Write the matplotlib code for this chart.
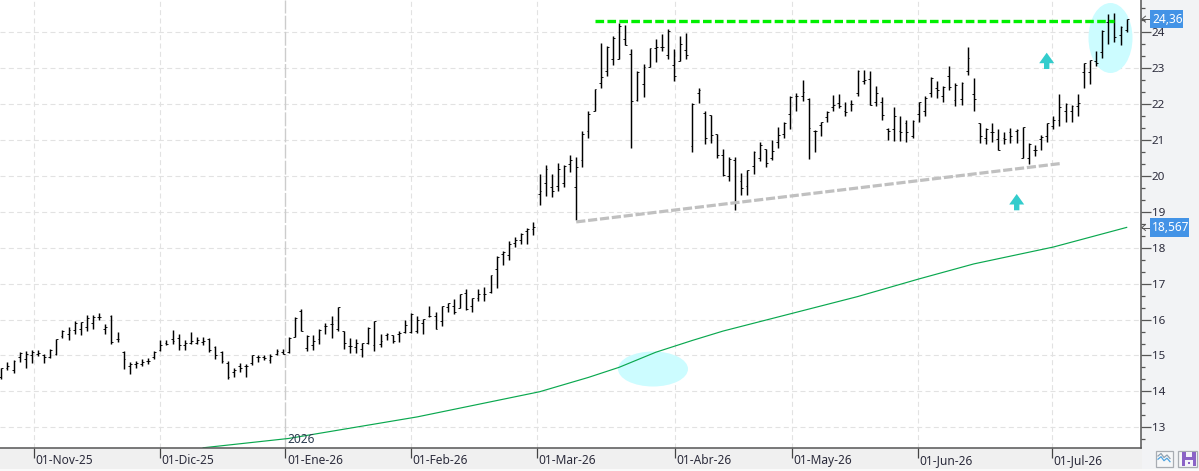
import matplotlib
matplotlib.use("Agg")
import matplotlib.pyplot as plt
from matplotlib.collections import LineCollection
from matplotlib.patches import Ellipse, Polygon, Rectangle
from matplotlib.ticker import MultipleLocator, NullFormatter
from matplotlib.transforms import Affine2D

plt.rcParams["lines.scale_dashes"] = False
plt.rcParams["font.family"] = ["Noto Sans", "DejaVu Sans"]

# Daily prices, oldest first
high = [14.66,14.82,14.87,15.10,15.12,15.15,15.15,15.04,15.17,15.47,15.72,15.79,15.95,15.94,16.14,16.12,16.19,15.88,16.12,15.65,
        15.12,14.82,14.84,14.90,14.94,15.13,15.42,15.44,15.70,15.61,15.42,15.65,15.52,15.52,15.50,15.26,15.12,14.86,14.66,14.78,
        14.76,15.01,15.01,15.01,15.04,15.17,15.17,15.52,16.07,16.30,15.56,15.58,15.75,
        15.90,16.11,16.36,15.67,15.50,15.47,15.36,15.78,15.97,15.61,15.64,15.58,15.67,16.00,16.17,16.09,16.03,16.39,16.21,16.39,
        16.47,16.57,16.71,16.84,16.59,16.84,16.91,17.23,17.76,17.92,18.18,18.29,18.41,18.54,18.73,
        20.06,20.31,20.06,20.36,20.30,20.59,20.54,21.25,21.81,22.42,23.70,23.61,23.89,24.25,24.20,23.53,22.92,23.11,23.56,23.81,
        23.95,24.09,23.54,23.90,23.98,22.03,22.44,21.82,21.70,21.17,20.76,20.54,20.54,20.09,20.17,20.70,20.94,20.76,21.01,21.37,
        21.50,22.23,22.30,22.68,22.17,21.27,21.50,21.80,22.26,22.29,22.07,22.12,22.95,22.95,22.93,22.51,22.20,21.33,21.93,21.68,
        21.56,21.55,22.06,22.23,22.76,22.63,22.51,23.06,22.58,22.62,23.59,22.73,21.48,21.34,21.48,21.31,21.22,21.34,21.32,21.37,
        20.93,20.86,21.15,21.48,21.68,22.29,22.03,21.97,22.29,23.15,23.23,23.48,24.06,24.51,24.53,24.17,24.36]
low = [14.35,14.59,14.52,14.81,14.66,14.80,14.98,14.80,14.93,15.01,15.50,15.42,15.59,15.56,15.68,15.73,15.98,15.59,15.33,15.38,
       14.63,14.49,14.64,14.70,14.76,14.90,15.13,15.29,15.33,15.16,15.16,15.32,15.33,15.28,15.09,14.91,14.78,14.35,14.41,14.53,
       14.41,14.73,14.82,14.87,14.80,15.00,15.03,15.07,15.52,15.68,15.13,15.15,15.33,
       15.61,15.49,15.68,15.18,15.07,15.07,14.97,15.33,15.13,15.24,15.43,15.36,15.38,15.63,15.63,15.64,15.60,16.06,15.75,15.81,
       16.22,16.16,16.31,16.28,16.21,16.52,16.52,16.75,16.88,17.53,17.65,18.01,18.11,18.10,18.36,
       19.19,19.43,19.42,19.57,19.68,20.10,18.76,20.25,21.07,21.80,22.44,22.79,23.10,23.25,23.64,20.77,22.10,22.20,23.02,23.16,
       23.49,23.27,22.65,23.19,23.26,20.66,22.04,20.88,20.93,20.49,19.99,19.87,19.05,19.48,19.48,20.05,20.41,20.24,20.43,20.78,
       21.05,21.32,21.80,22.10,20.46,20.66,21.10,21.49,21.82,21.88,21.68,21.81,22.23,22.56,21.98,21.94,21.56,21.01,20.98,20.98,
       20.95,21.07,21.49,21.66,22.19,22.16,22.07,22.38,21.96,21.98,22.81,21.80,20.93,20.88,20.95,20.71,20.89,20.91,20.91,20.49,
       20.32,20.56,20.73,20.95,21.30,21.38,21.51,21.51,21.68,22.44,22.56,23.06,23.29,23.68,23.74,23.65,24.01]
open_ = [14.40,14.65,14.60,14.95,14.90,15.00,15.05,15.00,14.95,15.05,15.55,15.60,15.70,15.75,15.80,15.90,16.08,15.75,16.10,15.45,
         15.10,14.70,14.75,14.75,14.85,14.95,15.15,15.35,15.45,15.50,15.30,15.35,15.35,15.38,15.45,15.25,15.10,14.80,14.55,14.70,
         14.70,14.80,14.95,14.95,14.88,15.05,15.10,15.10,15.52,16.25,15.20,15.30,15.45,
         15.82,15.87,15.75,15.67,15.26,15.23,15.17,15.35,15.29,15.33,15.56,15.56,15.59,15.66,15.66,15.68,15.90,16.10,16.09,15.95,
         16.34,16.38,16.31,16.75,16.39,16.59,16.71,16.77,17.40,17.82,17.79,18.12,18.21,18.46,18.51,
         19.51,19.80,19.69,19.71,19.79,20.34,19.69,20.45,21.25,21.81,22.58,22.92,23.25,23.25,23.81,23.40,22.11,22.56,23.03,23.56,
         23.58,23.36,23.08,23.21,23.51,20.84,22.30,21.75,21.70,21.17,20.58,20.00,20.45,19.85,19.71,20.29,20.50,20.76,20.50,20.94,
         21.17,21.72,22.23,22.23,22.15,21.24,21.41,21.64,21.92,22.03,21.80,22.00,22.32,22.65,22.69,22.06,22.07,21.30,21.30,21.24,
         21.47,21.12,21.73,21.81,22.32,22.44,22.23,22.79,22.12,22.14,22.93,22.28,21.47,21.05,21.21,21.03,21.05,21.21,21.26,20.51,
         20.50,20.73,21.03,21.12,21.38,21.57,21.81,21.81,21.95,22.89,22.89,23.20,23.46,24.30,24.30,23.93,24.06]
close = [14.65,14.72,14.85,15.08,15.05,15.10,15.08,14.95,15.15,15.45,15.68,15.72,15.90,15.92,16.05,16.08,16.08,15.78,15.38,15.45,
         14.90,14.75,14.78,14.82,14.85,15.10,15.30,15.33,15.40,15.30,15.35,15.40,15.42,15.40,15.15,15.00,14.85,14.40,14.60,14.65,
         14.70,15.00,14.97,14.93,14.98,15.12,15.05,15.50,16.05,15.68,15.55,15.40,15.70,
         15.82,15.87,16.36,15.34,15.27,15.34,15.34,15.77,15.96,15.41,15.59,15.41,15.62,15.86,16.16,15.99,16.01,16.09,15.75,16.38,
         16.47,16.20,16.70,16.29,16.59,16.70,16.72,17.23,17.73,17.89,18.10,18.22,18.39,18.52,18.57,
         19.59,20.19,19.59,20.19,20.27,20.44,20.25,21.16,21.72,22.42,22.75,23.59,23.84,24.18,23.64,22.10,22.90,23.02,23.56,23.58,
         23.60,24.05,22.79,23.67,23.36,22.01,22.38,21.05,21.14,20.58,20.03,20.48,19.29,19.67,20.16,20.68,20.85,20.36,20.70,21.15,
         21.47,22.21,22.23,22.33,21.33,21.26,21.49,21.78,21.98,21.94,21.77,22.00,22.93,22.68,21.98,22.30,21.69,21.24,21.66,21.22,
         21.22,21.52,22.05,22.17,22.74,22.38,22.49,22.47,22.54,22.60,23.28,22.14,21.12,21.31,21.21,20.73,21.03,21.10,21.29,21.35,
         20.89,20.73,21.08,21.47,21.57,21.92,22.01,21.95,22.03,23.14,23.22,23.14,24.05,24.34,23.86,24.16,24.36]

# Long moving average, sampled along the session index
sma_index = [33,47,68,88,96,101,107,113,118,129,140,150,159,172,184]
sma_value = [12.43,12.69,13.29,13.99,14.39,14.67,15.09,15.42,15.68,16.16,16.64,17.13,17.55,18.02,18.567]

# Trend lines: (start session, end session), (start price, end price)
resistance_index = [97, 182]
resistance_value = [24.31, 24.31]
support_index = [94, 173.4]
support_value = [18.72, 20.35]

date_labels = ["01-Nov-25","01-Dic-25","01-Ene-26","01-Feb-26","01-Mar-26","01-Abr-26","01-May-26","01-Jun-26","01-Jul-26"]
date_index = [5.34,25.94,46.46,66.98,87.6,110.15,129.3,149.9,171.8]
price_ticks = list(range(13, 25))
year_index = 46.46
year_label = "2026"

W, H = 1199, 471
fig = plt.figure(figsize=(W / 100, H / 100), dpi=100, facecolor="#f2f3f5")
px = Affine2D().scale(1, -1).translate(0, H)  # pixel coordinates, origin top-left

AX_R, AX_B = 1140.5, 448
ax = fig.add_axes([0, (H - AX_B) / H, AX_R / W, AX_B / H], facecolor="white")
STEP, X0 = 6.116, 1.33
ax.set_xlim(-X0 / STEP, (AX_R - X0) / STEP)
ax.set_ylim(24 - (AX_B - 32.3) / 35.91, 24 + 32.3 / 35.91)

for s in ("top", "left"):
    ax.spines[s].set_visible(False)
for s in ("right", "bottom"):
    ax.spines[s].set_color("#555555")
    ax.spines[s].set_linewidth(1.1)

# Grid
GRID = dict(color="#e2e2e2", lw=0.8, zorder=0)
for p in price_ticks:
    ax.axhline(p, ls=(0, (3.6, 2.4)), **GRID)
for d in date_index:
    if d != year_index:
        ax.axvline(d, ls=(0, (3.6, 2.4)), **GRID)
ax.axvline(year_index, color="#cccccc", lw=1.0, ls=(0, (10, 1.6)), zorder=0)

# Highlight ellipses
for cx, cy, w, h in [(653, 369, 70, 35), (1110.5, 38, 44, 70)]:
    ax.add_patch(Ellipse((cx, cy), w, h, transform=px, facecolor="#ccfcff", edgecolor="none", zorder=1))

# Moving average
ax.plot(sma_index, sma_value, color="#0aa84f", lw=0.85, zorder=2)

# OHLC bars
idx = range(len(high))
tick = 0.3
ax.add_collection(LineCollection([[(i, low[i]), (i, high[i])] for i in idx], colors="black", linewidths=1.05, zorder=3))
ax.add_collection(LineCollection([[(i - tick, open_[i]), (i, open_[i])] for i in idx], colors="black", linewidths=0.65, zorder=3))
ax.add_collection(LineCollection([[(i, close[i]), (i + tick, close[i])] for i in idx], colors="black", linewidths=0.65, zorder=3))

# Trend lines
ax.plot(resistance_index, resistance_value, color="#00f000", lw=2.4, ls=(0, (6.2, 2.4)), zorder=4)
ax.plot(support_index, support_value, color="#c0c0c0", lw=2.3, ls=(0, (6.6, 2.0)), zorder=4)

# Up arrows
for ax_x, top in [(1046.7, 52.7), (1016.7, 194)]:
    pts = [(ax_x, top), (ax_x + 7.5, top + 10.5), (ax_x + 2.7, top + 10.5), (ax_x + 2.7, top + 16.3),
           (ax_x - 2.7, top + 16.3), (ax_x - 2.7, top + 10.5), (ax_x - 7.5, top + 10.5)]
    ax.add_patch(Polygon(pts, closed=True, transform=px, facecolor="#33cccc", edgecolor="none", zorder=5))

# Price axis
ax.yaxis.tick_right()
ax.yaxis.set_major_locator(MultipleLocator(1))
ax.yaxis.set_minor_locator(MultipleLocator(1 / 3))
ax.yaxis.set_minor_formatter(NullFormatter())
ax.set_yticks(price_ticks)
ax.tick_params(axis="y", which="major", length=7.2, width=0.9, color="#555555", labelsize=8.4,
               labelcolor="#2c2c3c", pad=1.0)
ax.tick_params(axis="y", which="minor", length=2.9, width=0.9, color="#555555")
ax.text(1151, -3.6, "25", transform=px, fontsize=8.4, color="#2c2c3c", va="center", ha="left", clip_on=False)

# Date axis
ax.set_xticks(date_index)
ax.set_xticklabels([])
ax.tick_params(axis="x", which="major", length=7, width=0.9, color="#444444")
fig.patches.append(Rectangle((0, 448.5), AX_R + 1, 22.5, transform=px, facecolor="#f0f0f0", edgecolor="none", zorder=-1))
fig.patches.append(Rectangle((0, 468.5), W, 2.5, transform=px, facecolor="#fafafa", edgecolor="none", zorder=-1))
for d, lab in zip(date_index, date_labels):
    xp = X0 + d * STEP
    fig.text(xp + 1.6, 460.8, lab, transform=px, fontsize=8.6, color="#2c2c3c", va="center", ha="left")
ax.text(X0 + year_index * STEP + 1.6, 439.5, year_label, transform=px, fontsize=8.6, color="#2c3c50",
        va="center", ha="left", zorder=6)

# Last-value boxes on the price axis
def fmt(v):
    return f"{v:g}".replace(".", ",")

for value, x1, y1, y2 in [(close[-1], 1183, 10, 28.3), (sma_value[-1], 1189, 218, 237)]:
    fig.patches.append(Rectangle((1150, y1), x1 - 1150, y2 - y1, transform=px, facecolor="#4393e6", edgecolor="none"))
    ym = (y1 + y2) / 2
    fig.text(1152, ym, fmt(value), transform=px, fontsize=8.6, color="white", va="center", ha="left")
    for seg in ([(1142, ym), (1148.5, ym)], [(1142, ym), (1145.5, ym - 3)], [(1142, ym), (1145.5, ym + 3)]):
        xs, ys = zip(*seg)
        fig.add_artist(plt.Line2D(xs, ys, transform=px, color="#555555", lw=0.7))

# Toolbar buttons in the corner
fig.patches.append(Rectangle((1155.5, 451), 17.5, 15.5, transform=px, facecolor="#f6f7f8", edgecolor="#a8acb2", lw=0.9))
for dy, col in ((0, "#8fa0b0"), (3.2, "#4fa3e0")):
    fig.add_artist(plt.Line2D([1158, 1161, 1164, 1167, 1170], [456 + dy, 453.5 + dy, 457.5 + dy, 455 + dy, 458.5 + dy],
                              transform=px, color=col, lw=0.9))
fig.patches.append(Rectangle((1177.5, 451), 19.5, 15.5, transform=px, facecolor="#f6f7f8", edgecolor="#a8acb2", lw=0.9))
fig.patches.append(Rectangle((1182, 452), 13.5, 13.5, transform=px, facecolor="#8a62c6", edgecolor="none"))
fig.patches.append(Rectangle((1185.5, 452), 6.5, 4.5, transform=px, facecolor="#f4f2fa", edgecolor="none"))
fig.patches.append(Rectangle((1184.5, 459.5), 8.5, 6, transform=px, facecolor="#f4f2fa", edgecolor="none"))
fig.patches.append(Rectangle((1187.5, 461.5), 2, 2, transform=px, facecolor="#8a62c6", edgecolor="none"))

fig.savefig("out.png", dpi=100, facecolor=fig.get_facecolor())
